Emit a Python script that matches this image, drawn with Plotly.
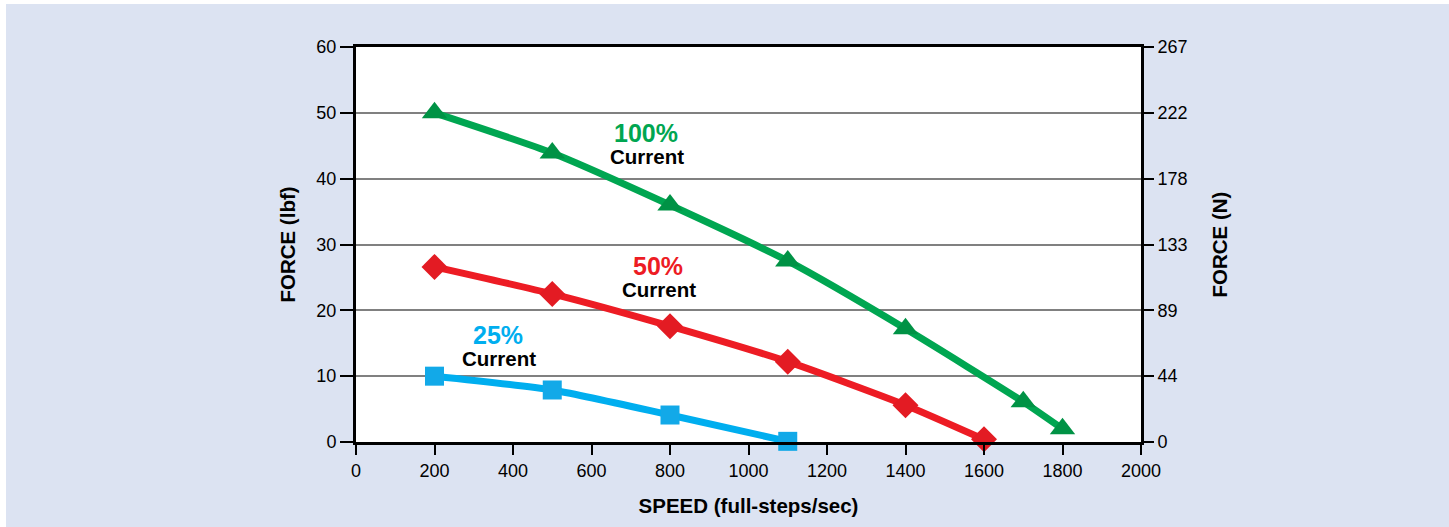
import plotly.graph_objects as go

# ---- data ----
speed_100 = [200, 500, 800, 1100, 1400, 1700, 1800]
force_100 = [50.0, 43.9, 36.0, 27.5, 17.2, 6.1, 2.0]

speed_50 = [200, 500, 800, 1100, 1400, 1600]
force_50 = [26.6, 22.5, 17.6, 12.2, 5.6, 0.4]

speed_25 = [200, 500, 800, 1100]
force_25 = [10.0, 7.9, 4.1, 0.1]

x_ticks = [0, 200, 400, 600, 800, 1000, 1200, 1400, 1600, 1800, 2000]
lbf_ticks = [0, 10, 20, 30, 40, 50, 60]
newton_labels = ["0", "44", "89", "133", "178", "222", "267"]
LBF_TO_N = 4.44822

BG = "#dce3f2"
FONT = "Liberation Sans, Arial, Helvetica, sans-serif"

# page offset (body margin) and plot-area geometry in screen pixels
OX, OY = 6, 4
L, T, PW, PH = 356, 47, 785, 395
W, H = 1449, 527

fig = go.Figure()

series = [
    (speed_100, force_100, "#00a651", "#009245", "triangle-up", 22, "100%"),
    (speed_50, force_50, "#ed1c24", "#e31b23", "diamond", 20, "50%"),
    (speed_25, force_25, "#00aeef", "#12a9e8", "square", 19, "25%"),
]
for xs, ys, lc, mc, sym, ms, name in series:
    fig.add_trace(go.Scatter(
        x=xs, y=ys, mode="lines+markers", name=name,
        line=dict(color=lc, width=7, shape="spline", smoothing=0.6),
        marker=dict(symbol=sym, size=ms, color=mc, line=dict(width=0)),
        showlegend=False, cliponaxis=False,
    ))

# invisible trace for the Newton axis
fig.add_trace(go.Scatter(x=[0], y=[0], yaxis="y2", mode="markers",
                         marker=dict(opacity=0), showlegend=False, hoverinfo="skip"))

labels = [
    (646, 133, "100%", "#00a651"),
    (658, 266, "50%", "#ed1c24"),
    (498, 335, "25%", "#00aeef"),
]

def px(xp):
    return (xp - L) / PW

def py(yp):
    return (T + PH - yp) / PH

annotations = []
for xp, yp, txt, col in labels:
    annotations.append(dict(x=px(xp), y=py(yp), xref="paper", yref="paper",
                            xanchor="center", yanchor="middle",
                            text=f"<b>{txt}</b>", showarrow=False,
                            font=dict(size=25, color=col, family=FONT)))
    annotations.append(dict(x=px(xp + 1), y=py(yp + 23), xref="paper", yref="paper",
                            xanchor="center", yanchor="middle",
                            text="<b>Current</b>", showarrow=False,
                            font=dict(size=20.5, color="black", family=FONT)))

fig.update_layout(
    width=W, height=H,
    margin=dict(l=L - OX, r=W - (L - OX) - PW, t=T - OY, b=H - (T - OY) - PH, pad=0),
    paper_bgcolor=BG, plot_bgcolor="white",
    font=dict(family=FONT, size=18, color="black"),
    annotations=annotations,
    xaxis=dict(
        range=[0, 2000], tickvals=x_ticks, showgrid=False, zeroline=False,
        showline=True, linecolor="black", linewidth=3, mirror=True,
        ticks="outside", ticklen=10, tickwidth=2, tickcolor="black",
        tickfont=dict(size=18),
        title=dict(text="<b>SPEED (full-steps/sec)</b>", font=dict(size=20.5), standoff=20),
    ),
    yaxis=dict(
        range=[0, 60], tickvals=lbf_ticks, showgrid=True, gridcolor="#808080", gridwidth=1.5,
        zeroline=False, showline=True, linecolor="black", linewidth=3, mirror=True,
        ticks="outside", ticklen=13, tickwidth=2, tickcolor="black",
        tickfont=dict(size=18),
        title=dict(text="<b>FORCE (lbf)</b>", font=dict(size=20.5), standoff=16),
    ),
    yaxis2=dict(
        overlaying="y", side="right", range=[0, 60 * LBF_TO_N],
        tickvals=[v * LBF_TO_N for v in lbf_ticks], ticktext=newton_labels,
        showgrid=False, zeroline=False, showline=False,
        ticks="outside", ticklen=12, tickwidth=2, tickcolor="black",
        tickfont=dict(size=18),
        title=dict(text="<b>FORCE (N)</b>", font=dict(size=20.5), standoff=26),
    ),
)

fig.write_html(
    "out.html",
    post_script=f"document.body.style.margin='{OY}px 0 0 {OX}px';"
                "document.body.style.overflow='hidden';",
)
